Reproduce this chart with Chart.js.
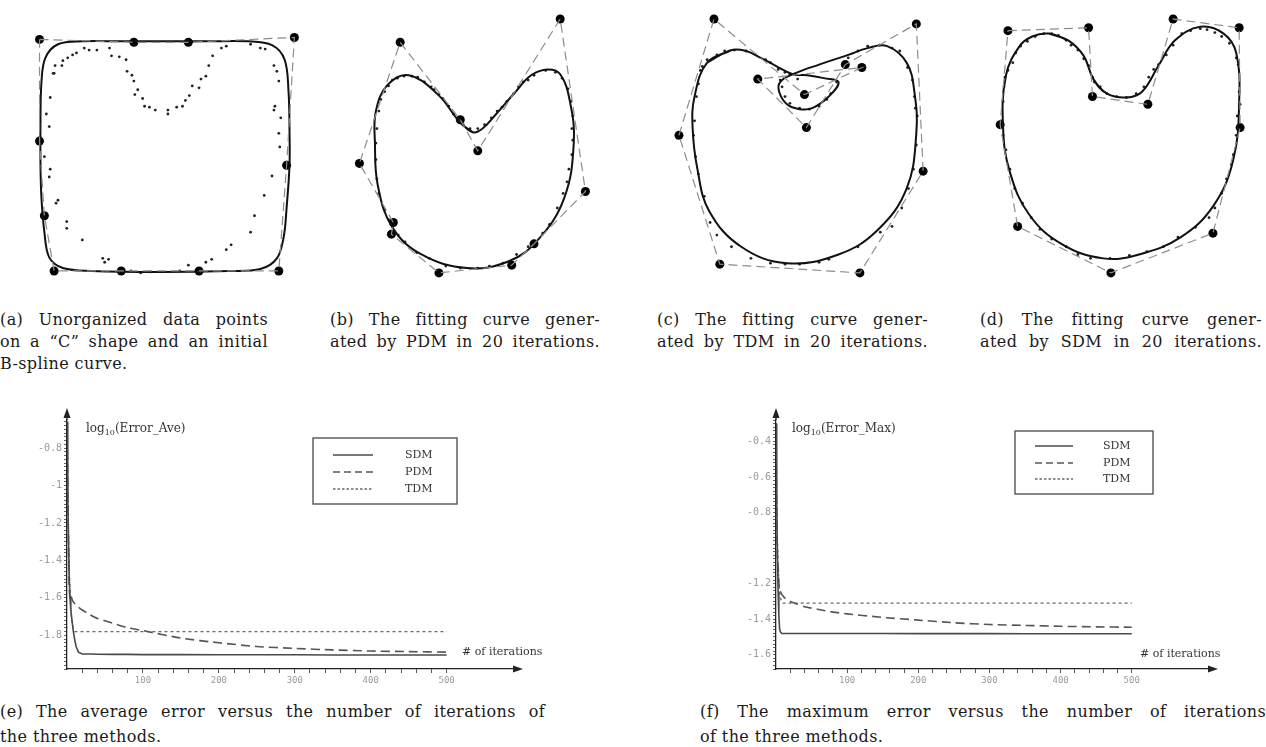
<!DOCTYPE html>
<html><head><meta charset="utf-8">
<script src="https://cdn.jsdelivr.net/npm/chart.js@4.4.1/dist/chart.umd.min.js"></script>
<style>
body{margin:0;background:#fff;width:1266px;height:747px;overflow:hidden;position:relative;font-family:'DejaVu Serif',serif;color:#1a1a1a}
canvas{position:absolute}
.ln{position:absolute;font-size:16px;letter-spacing:0.4px;line-height:22px;height:22px;white-space:nowrap;overflow:visible}
.j{text-align:justify;text-align-last:justify;white-space:normal}
.lab{position:absolute;font-size:12px;color:#333;white-space:nowrap;line-height:14px}
.lab sub{font-size:8px}
</style></head>
<body>
<canvas id="pa" width="330" height="290" style="left:0;top:0"></canvas>
<canvas id="pb" width="300" height="290" style="left:320px;top:0"></canvas>
<canvas id="pc" width="330" height="290" style="left:620px;top:0"></canvas>
<canvas id="pd" width="316" height="290" style="left:950px;top:0"></canvas>
<canvas id="pe" width="540" height="300" style="left:20px;top:395px"></canvas>
<canvas id="pf" width="520" height="300" style="left:720px;top:395px"></canvas>

<div class="ln j" style="left:0;top:309px;width:268px">(a) Unorganized data points</div>
<div class="ln j" style="left:0;top:331px;width:268px">on a “C” shape and an initial</div>
<div class="ln" style="left:0;top:353px">B-spline curve.</div>
<div class="ln j" style="left:330px;top:309px;width:270px">(b) The fitting curve gener-</div>
<div class="ln j" style="left:330px;top:331px;width:270px">ated by PDM in 20 iterations.</div>
<div class="ln j" style="left:657px;top:309px;width:271px">(c) The fitting curve gener-</div>
<div class="ln j" style="left:657px;top:331px;width:271px">ated by TDM in 20 iterations.</div>
<div class="ln j" style="left:980px;top:309px;width:282px">(d) The fitting curve gener-</div>
<div class="ln j" style="left:980px;top:331px;width:282px">ated by SDM in 20 iterations.</div>
<div class="ln j" style="left:0;top:701px;width:545px">(e) The average error versus the number of iterations of</div>
<div class="ln" style="left:0;top:726px">the three methods.</div>
<div class="ln j" style="left:700px;top:701px;width:566px">(f) The maximum error versus the number of iterations</div>
<div class="ln" style="left:700px;top:726px">of the three methods.</div>

<div class="lab" style="left:86px;top:421px">log<sub>10</sub>(Error_Ave)</div>
<div class="lab" style="left:792px;top:421px">log<sub>10</sub>(Error_Max)</div>
<div class="lab" style="left:462px;top:645px;font-size:11px">#&nbsp;of iterations</div>
<div class="lab" style="left:1140px;top:647px;font-size:11px">#&nbsp;of iterations</div>

<script>
// ---------- data: panel (a) ----------
const aCurve = [[160,38],[210,38],[250,38],[275,42],[288,57],[292,90],[293,130],[293,166],[290,210],[287,240],[280,262],[263,273],[230,275],[160,276],[90,275],[60,272],[46,261],[41,235],[38,200],[37,166],[37,120],[38,80],[42,55],[55,41],[80,38],[120,38]];
const aCtrl = [[36,36],[133,39],[189,39],[298,34],[290,166],[282,275],[200,275],[120,275],[51,275],[41,218],[36,141]];
const aDots = [[52,63],[50,71],[59,63],[60,58],[65,55],[70,52],[74,50],[82,45],[87,47],[95,47],[108,45],[110,53],[118,54],[125,57],[126,69],[131,73],[133,79],[137,88],[134,93],[142,97],[144,105],[149,106],[155,109],[168,109],[168,113],[177,106],[183,105],[186,99],[190,94],[193,84],[200,86],[202,77],[207,74],[210,63],[214,53],[223,45],[228,43],[253,41],[263,45],[268,46],[277,63],[280,69],[282,79],[278,105],[277,109],[284,117],[282,133],[283,147],[275,177],[267,197],[257,218],[253,235],[233,248],[228,253],[213,263],[207,266],[189,269],[180,275],[150,276],[140,277],[130,275],[107,263],[103,266],[101,262],[80,243],[64,231],[64,224],[55,202],[53,205],[46,178],[47,170],[41,157],[46,126],[43,113],[47,96],[51,71]];
const aPoly = [[36,36],[133,39],[189,39],[298,34],[290,166],[282,275],[200,275],[120,275],[51,275],[41,218],[36,141]];
// ---------- panel (b) ----------
const bCurve = [[153,132],[140,122],[117,93],[87,73],[65,83],[53,110],[52,143],[55,187],[70,230],[100,258],[147,272],[190,265],[220,243],[247,200],[257,143],[253,100],[243,72],[230,67],[213,73],[197,90],[177,113],[163,128]];
const bCtrl = [[78,39],[36,164],[71,225],[69,237],[118,277],[193,269],[216,247],[269,193],[243,15],[158,151],[140,119]];
const bPoly = [[78,39],[140,119],[158,151],[243,15],[269,193],[216,247],[193,269],[118,277],[69,237],[71,225],[36,164]];
const bDots = [[70,78],[75,76],[82,74],[90,74],[96,75],[103,80],[110,85],[113,88],[118,93],[122,97],[128,105],[133,113],[138,118],[143,124],[150,128],[158,128],[165,124],[172,117],[178,110],[183,106],[188,100],[195,92],[200,85],[205,80],[210,78],[216,73],[228,68],[238,70],[245,76],[251,87],[254,100],[256,115],[255,128],[256,140],[255,155],[252,170],[250,183],[246,195],[240,210],[232,227],[225,236],[210,250],[198,258],[184,267],[170,270],[158,272],[140,272],[125,270],[108,262],[95,256],[83,245],[76,238],[66,222],[62,212],[56,195],[54,180],[53,160],[53,143],[54,128],[56,110],[58,98],[62,90],[66,84]];
// ---------- panel (c) ----------
const cCurve = [[110,47],[85,60],[72,95],[70,127],[75,170],[87,213],[120,250],[167,267],[220,258],[260,233],[290,190],[300,133],[298,90],[290,60],[270,43],[250,45],[230,52],[200,62],[173,72],[160,80],[159,90],[167,103],[180,108],[193,107],[210,95],[220,80],[205,76],[188,73],[173,72],[155,63],[140,55],[125,48]];
const cCtrl = [[92,15],[137,77],[185,93],[187,127],[227,62],[244,65],[300,20],[307,172],[242,277],[98,268],[56,135]];
const cPoly = [[56,135],[92,15],[185,93],[244,65],[137,77],[187,127],[227,62],[300,20],[307,172],[242,277],[98,268]];
const cDots = [[80,64],[85,57],[95,52],[103,48],[113,47],[125,48],[135,52],[145,57],[150,60],[158,67],[165,70],[170,72],[178,77],[160,78],[162,85],[165,95],[170,102],[180,107],[190,108],[200,105],[208,98],[212,92],[218,80],[230,55],[240,48],[250,43],[262,42],[275,45],[283,48],[291,65],[296,78],[298,95],[299,107],[301,115],[300,145],[297,170],[292,190],[285,210],[275,229],[263,235],[240,250],[210,263],[200,266],[180,268],[165,268],[150,267],[130,262],[110,250],[95,238],[88,225],[82,198],[76,175],[73,157],[71,135],[72,120],[74,95],[76,82],[78,68]];
// ---------- panel (d) ----------
const dCurve = [[97,30],[117,37],[133,53],[143,77],[157,92],[177,96],[193,90],[210,63],[227,37],[253,23],[277,30],[290,50],[293,100],[287,160],[267,207],[233,240],[190,258],[153,262],[110,247],[77,217],[57,173],[50,127],[53,73],[67,43],[80,33]];
const dCtrl = [[55,27],[138,24],[142,95],[199,103],[225,15],[293,24],[294,127],[266,236],[161,277],[65,229],[47,124]];
const dPoly = [[55,27],[138,24],[142,95],[199,103],[225,15],[293,24],[294,127],[266,236],[161,277],[65,229],[47,124]];
const dDots = [[60,60],[63,50],[68,43],[75,38],[83,33],[92,30],[100,30],[107,32],[115,37],[120,42],[127,47],[133,56],[138,63],[142,75],[144,80],[150,85],[157,92],[167,95],[177,96],[187,92],[195,85],[200,75],[205,67],[210,62],[218,52],[225,42],[234,30],[243,27],[253,25],[260,26],[268,29],[275,33],[283,40],[290,55],[292,62],[293,90],[294,103],[291,115],[290,135],[287,155],[285,165],[280,180],[275,195],[268,210],[262,220],[248,230],[230,240],[215,250],[198,255],[180,259],[160,262],[140,262],[127,258],[115,250],[100,242],[88,232],[79,220],[70,205],[62,190],[57,170],[53,150],[50,135],[48,120],[50,100],[51,85],[52,75],[55,68]];

// ---------- error plots (e), (f) ----------
const iters   = [0,1,2,3,4,5,6,8,10,12,15,20,30,40,60,80,100,150,200,250,300,350,400,450,500];
const sdmAve  = [-0.66,-1.05,-1.3,-1.5,-1.6,-1.66,-1.7,-1.77,-1.82,-1.86,-1.89,-1.9,-1.9,-1.901,-1.902,-1.902,-1.903,-1.903,-1.904,-1.904,-1.904,-1.905,-1.905,-1.905,-1.905];
const pdmAve  = [-0.66,-1.0,-1.35,-1.55,-1.6,-1.58,-1.6,-1.62,-1.63,-1.64,-1.65,-1.665,-1.69,-1.71,-1.735,-1.76,-1.775,-1.815,-1.84,-1.86,-1.87,-1.878,-1.884,-1.887,-1.89];
const tdmAve  = [-0.66,-0.95,-1.25,-1.45,-1.58,-1.66,-1.71,-1.76,-1.78,-1.78,-1.78,-1.78,-1.78,-1.78,-1.78,-1.78,-1.78,-1.78,-1.78,-1.78,-1.78,-1.78,-1.78,-1.78,-1.78];
const sdmMax  = [-0.3,-0.75,-1.05,-1.25,-1.38,-1.45,-1.47,-1.48,-1.48,-1.48,-1.48,-1.48,-1.48,-1.48,-1.48,-1.48,-1.48,-1.48,-1.481,-1.481,-1.481,-1.482,-1.482,-1.482,-1.482];
const pdmMax  = [-0.3,-0.8,-1.05,-1.1,-1.2,-1.22,-1.24,-1.26,-1.27,-1.28,-1.29,-1.3,-1.315,-1.33,-1.345,-1.36,-1.37,-1.39,-1.405,-1.42,-1.43,-1.435,-1.44,-1.443,-1.445];
const tdmMax  = [-0.3,-0.7,-0.95,-1.1,-1.18,-1.24,-1.28,-1.3,-1.31,-1.31,-1.31,-1.31,-1.31,-1.31,-1.31,-1.31,-1.31,-1.31,-1.31,-1.31,-1.31,-1.31,-1.31,-1.31,-1.31];
const seriesNames = ['SDM','PDM','TDM'];
const xTickLabels = [100,200,300,400,500];
const yTickLabelsE = [-0.8,-1,-1.2,-1.4,-1.6,-1.8];
const yTickLabelsF = [-0.4,-0.6,-0.8,-1.2,-1.4,-1.6];

// ---------- helpers ----------
const toXY = arr => arr.map(p => ({x:p[0], y:p[1]}));
const closeLoop = arr => arr.concat([arr[0]]);
const closeSmooth = arr => arr.concat([arr[0], arr[1]]);

function shapeChart(id, w, h, curve, ctrl, poly, dots, tension) {
  new Chart(document.getElementById(id), {
    type: 'scatter',
    data: { datasets: [
      { data: toXY(closeLoop(poly)), showLine: true, borderColor: '#8d8d8d', borderWidth: 1.2, borderDash: [9,5], pointRadius: 0, tension: 0, clip: false },
      { data: toXY(closeSmooth(curve)), showLine: true, borderColor: '#111', borderWidth: 2, pointRadius: 0, tension: tension, clip: false },
      { data: toXY(dots), showLine: false, pointRadius: 1.4, backgroundColor: '#222', borderWidth: 0, clip: false },
      { data: toXY(ctrl), showLine: false, pointRadius: 4.5, backgroundColor: '#000', borderWidth: 0, clip: false }
    ]},
    options: {
      responsive: false, animation: false, devicePixelRatio: 1,
      layout: { padding: 0 },
      plugins: { legend: { display: false }, tooltip: { enabled: false } },
      scales: {
        x: { type: 'linear', display: false, min: 0, max: w },
        y: { type: 'linear', display: false, min: 0, max: h, reverse: true }
      }
    }
  });
}

shapeChart('pa', 330, 290, aCurve, aCtrl, aPoly, aDots, 0.35);
shapeChart('pb', 300, 290, bCurve, bCtrl, bPoly, bDots, 0.4);
shapeChart('pc', 330, 290, cCurve, cCtrl, cPoly, cDots, 0.4);
shapeChart('pd', 316, 290, dCurve, dCtrl, dPoly, dDots, 0.4);

const axisArrows = {
  id: 'axisArrows',
  afterDraw(chart) {
    const { ctx, chartArea: { left, right, top, bottom } } = chart;
    ctx.save();
    ctx.strokeStyle = '#222'; ctx.fillStyle = '#222'; ctx.lineWidth = 1.3;
    ctx.beginPath(); ctx.moveTo(left, top); ctx.lineTo(left, top - 6); ctx.stroke();
    ctx.beginPath(); ctx.moveTo(left, top - 12); ctx.lineTo(left - 3.5, top - 2); ctx.lineTo(left + 3.5, top - 2); ctx.closePath(); ctx.fill();
    ctx.beginPath(); ctx.moveTo(right + 8, bottom); ctx.lineTo(right - 2, bottom - 3.5); ctx.lineTo(right - 2, bottom + 3.5); ctx.closePath(); ctx.fill();
    ctx.restore();
  }
};
const boxLegend = {
  id: 'boxLegend',
  afterDraw(chart, args, o) {
    const { ctx, chartArea: { left, top } } = chart;
    const bx = left + o.x, by = top + o.y;
    ctx.save();
    ctx.strokeStyle = '#555'; ctx.lineWidth = 1.4; ctx.setLineDash([]);
    ctx.strokeRect(bx, by, o.w, o.h);
    ctx.font = '11px "DejaVu Serif"'; ctx.fillStyle = '#333'; ctx.textBaseline = 'middle';
    chart.data.datasets.forEach((ds, i) => {
      const yy = by + o.rows[i];
      ctx.strokeStyle = ds.borderColor; ctx.lineWidth = ds.borderWidth;
      ctx.setLineDash(ds.legendDash || []);
      ctx.beginPath(); ctx.moveTo(bx + o.l0, yy); ctx.lineTo(bx + o.l1, yy); ctx.stroke();
      ctx.fillText(ds.label, bx + o.tx, yy);
    });
    ctx.restore();
  }
};

function errChart(id, sdm, pdm, tdm, yMin, yMax, xMax, yLabels, padL, padR, legendPos) {
  const mk = v => iters.map((x, i) => ({ x: x, y: v[i] }));
  new Chart(document.getElementById(id), {
    type: 'scatter',
    data: { datasets: [
      { label: seriesNames[0], data: mk(sdm), showLine: true, borderColor: '#4a4a4a', borderWidth: 1.6, pointRadius: 0, tension: 0, legendDash: [] },
      { label: seriesNames[1], data: mk(pdm), showLine: true, borderColor: '#555', borderWidth: 1.6, borderDash: [9,5], pointRadius: 0, tension: 0.2, legendDash: [7,4] },
      { label: seriesNames[2], data: mk(tdm), showLine: true, borderColor: '#6a6a6a', borderWidth: 1.3, borderDash: [3,3], pointRadius: 0, tension: 0, legendDash: [2.5,2] }
    ]},
    options: {
      responsive: false, animation: false, devicePixelRatio: 1,
      layout: { padding: { left: padL, right: padR, top: 25, bottom: 0 } },
      plugins: { legend: { display: false }, tooltip: { enabled: false }, boxLegend: legendPos },
      scales: {
        x: {
          type: 'linear', min: 0, max: xMax,
          afterFit(s) { s.height = 26; },
          afterBuildTicks(s) { s.ticks = s.ticks.filter(t => t.value > 0 && t.value <= 500); },
          border: { color: '#222', width: 1.3 },
          grid: { drawOnChartArea: false, tickLength: 4, color: '#555' },
          ticks: { stepSize: 20, autoSkip: false, maxRotation: 0, padding: 2, color: '#9a9a9a',
                   font: { family: 'DejaVu Sans Mono', size: 9 },
                   callback: v => xTickLabels.includes(v) ? String(v) : '' }
        },
        y: {
          type: 'linear', min: yMin, max: yMax,
          afterFit(s) { s.width = 40; },
          border: { color: '#222', width: 1.3 },
          grid: { drawOnChartArea: false, tickLength: 3, color: '#666' },
          ticks: { stepSize: 0.02, includeBounds: false, autoSkip: false, padding: 2, color: '#9a9a9a',
                   font: { family: 'DejaVu Sans Mono', size: 10 },
                   callback: v => { const h = yLabels.find(t => Math.abs(t - v) < 1e-6); return h === undefined ? '' : String(h); } }
        }
      }
    },
    plugins: [axisArrows, boxLegend]
  });
}

errChart('pe', sdmAve, pdmAve, tdmAve, -1.98, -0.65, 590, yTickLabelsE, 7, 45,
  { x: 246, y: 18, w: 144, h: 66, l0: 20, l1: 60, tx: 92, rows: [17, 34, 51] });
errChart('pf', sdmMax, pdmMax, tdmMax, -1.68, -0.28, 610, yTickLabelsF, 16, 30,
  { x: 239, y: 11, w: 138, h: 63, l0: 20, l1: 58, tx: 88, rows: [15, 32, 48] });
</script>
</body></html>
